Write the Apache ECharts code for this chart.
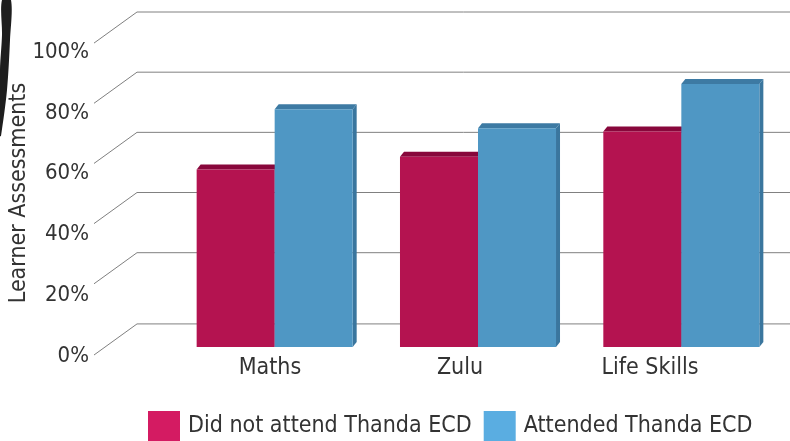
<!DOCTYPE html>
<html>
<head>
<meta charset="utf-8">
<script src="https://cdn.jsdelivr.net/npm/echarts@6/dist/echarts.min.js"></script>
<style>
  html, body { margin: 0; padding: 0; background: #fff; }
  #chart { width: 790px; height: 441px; }
</style>
</head>
<body>
<div id="chart"></div>
<script>
// data
const categories = ['Maths', 'Zulu', 'Life Skills']
const didNotAttend = [56, 60, 68]
const attended = [75, 69, 83]
const yTicks = [0, 20, 40, 60, 80, 100]
const seriesNames = ['Did not attend Thanda ECD', 'Attended Thanda ECD']

// pick a narrow font if there is one, and size text so the legend is as wide as in the picture
function hasFont(name) {
  const c = document.createElement('canvas').getContext('2d')
  const s = 'Did not attend Thanda ECD 100%'
  c.font = '40px monospace'
  const a = c.measureText(s).width
  c.font = "40px '" + name + "', monospace"
  return c.measureText(s).width !== a
}
const candidates = ['Liberation Sans Narrow', 'DejaVu Sans Condensed', 'Roboto Condensed', 'Roboto']
const FONT_NAME = candidates.find(hasFont) || 'sans-serif'
const FONT = "'" + FONT_NAME + "', sans-serif"
function fitSize(text, targetWidth) {
  const c = document.createElement('canvas').getContext('2d')
  c.font = '100px ' + FONT
  return Math.round(100 * targetWidth / c.measureText(text).width * 10) / 10
}
const FS = Math.min(28, fitSize(seriesNames[0], 284))

const TEXT = '#333'
const GRID_LINE = '#808080'

// the walls of the 3d box: floor sits a bit lower than 0 and the front plane is shifted
const FLOOR = -11 / 3
const DEPTH = 31 / 3
const WALL_X_MAX = (790 - 94) / 43

function wallLine(t) {
  const y = t === 0 ? FLOOR : t
  return {
    type: 'line',
    xAxisIndex: 1,
    yAxisIndex: 1,
    data: [[0, y - DEPTH], [1, y], [WALL_X_MAX, y]],
    showSymbol: false,
    silent: true,
    clip: false,
    z: 1,
    lineStyle: { color: GRID_LINE, width: 1 },
  }
}

const BAR_SHARE = 78 / 203.3
const DX = 4
const DY = -5

function barRenderer(idx, colors) {
  return function (params, api) {
    const cat = api.value(0)
    const val = api.value(1)
    const base = api.coord([cat, 0])
    const tip = api.coord([cat, val])
    const w = api.size([1, 0])[0] * BAR_SHARE
    const x0 = base[0] - w + idx * w
    const x1 = x0 + w
    return {
      type: 'group',
      children: [
        {
          type: 'polygon',
          shape: { points: [[x1, tip[1]], [x1 + DX, tip[1] + DY], [x1 + DX, base[1] + DY], [x1, base[1]]] },
          style: { fill: colors.side },
        },
        {
          type: 'polygon',
          shape: { points: [[x0, tip[1]], [x0 + DX, tip[1] + DY], [x1 + DX, tip[1] + DY], [x1, tip[1]]] },
          style: { fill: colors.top },
        },
        {
          type: 'rect',
          shape: { x: x0, y: tip[1], width: w, height: base[1] - tip[1] },
          style: { fill: colors.front },
        },
      ],
    }
  }
}

const maroon = { front: '#b41350', top: '#88073b', side: '#7c0a36', legend: '#d41b62' }
const blue = { front: '#4f97c4', top: '#3d7aa3', side: '#3a769e', legend: '#5aade1' }

const chart = echarts.init(document.getElementById('chart'))
chart.setOption({
  animation: false,
  backgroundColor: '#fff',
  textStyle: { fontFamily: FONT },
  legend: {
    left: 148,
    top: 411,
    padding: 0,
    itemWidth: 32,
    itemHeight: 30,
    itemGap: 12,
    icon: 'rect',
    textStyle: { fontFamily: FONT, fontSize: FS, color: TEXT, padding: [5, 0, 0, 3] },
    data: [
      { name: seriesNames[0], itemStyle: { color: maroon.legend } },
      { name: seriesNames[1], itemStyle: { color: blue.legend } },
    ],
  },
  grid: [
    // bars
    { left: 173, width: 610, top: 30, bottom: 94 },
    // walls
    { left: 94, right: 0, top: 12, bottom: 86 },
    // y labels on the front plane
    { left: 94, width: 10, top: 52, bottom: 85 },
    // category labels
    { left: 175, width: 570, top: 340, height: 10 },
  ],
  xAxis: [
    { gridIndex: 0, type: 'category', data: categories, show: false },
    { gridIndex: 1, type: 'value', min: 0, max: WALL_X_MAX, show: false },
    { gridIndex: 2, type: 'value', show: false },
    {
      gridIndex: 3,
      type: 'category',
      data: categories,
      axisLine: { show: false },
      axisTick: { show: false },
      axisLabel: { fontFamily: FONT, fontSize: FS, color: TEXT, margin: 7 },
    },
  ],
  yAxis: [
    { gridIndex: 0, type: 'value', min: 0, max: 100, show: false },
    { gridIndex: 1, type: 'value', min: FLOOR - DEPTH, max: 100, show: false },
    {
      gridIndex: 2,
      type: 'value',
      min: 0,
      max: 100,
      interval: 20,
      axisLine: { show: false },
      axisTick: { show: false },
      splitLine: { show: false },
      axisLabel: { fontFamily: FONT, fontSize: FS - 1, color: TEXT, margin: 5, formatter: '{value}%' },
    },
    { gridIndex: 3, type: 'value', show: false },
  ],
  graphic: [
    {
      type: 'text',
      x: 19,
      y: 193,
      rotation: Math.PI / 2,
      style: {
        text: 'Learner Assessments',
        fontFamily: FONT,
        fontSize: FS,
        fill: TEXT,
        align: 'center',
        verticalAlign: 'middle',
      },
    },
    {
      type: 'polygon',
      shape: {
        points: [[2, 0], [11, 0], [10, 40], [7, 90], [1, 136], [0, 136], [0, 70], [2, 35]],
        smooth: 0.3,
      },
      style: { fill: '#1e1e1e' },
    },
  ],
  series: yTicks.map(wallLine).concat([
    {
      name: seriesNames[0],
      type: 'custom',
      xAxisIndex: 0,
      yAxisIndex: 0,
      z: 5,
      itemStyle: { color: maroon.legend },
      renderItem: barRenderer(0, maroon),
      encode: { x: 0, y: 1 },
      data: didNotAttend.map((v, i) => [i, v]),
    },
    {
      name: seriesNames[1],
      type: 'custom',
      xAxisIndex: 0,
      yAxisIndex: 0,
      z: 5,
      itemStyle: { color: blue.legend },
      renderItem: barRenderer(1, blue),
      encode: { x: 0, y: 1 },
      data: attended.map((v, i) => [i, v]),
    },
  ]),
})
</script>
</body>
</html>
